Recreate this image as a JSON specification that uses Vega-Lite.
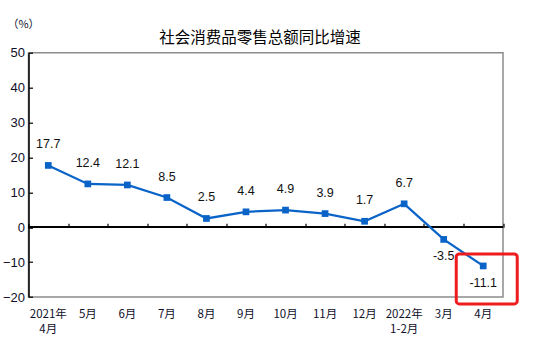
{
  "$schema": "https://vega.github.io/schema/vega-lite/v6.json",
  "autosize": "none",
  "padding": {"left": 28.5, "top": 52.7, "right": 33, "bottom": 58},
  "width": 474.5,
  "height": 244.3,
  "title": {
    "text": "社会消费品零售总额同比增速",
    "font": "Noto Sans CJK SC",
    "fontSize": 15.5,
    "fontWeight": "normal",
    "color": "#000000",
    "anchor": "middle",
    "dx": -5.7,
    "baseline": "bottom",
    "offset": -43
  },
  "config": {
    "view": {"stroke": "#8c8c8c", "strokeWidth": 1.5},
    "font": "Liberation Sans"
  },
  "data": {
    "values": [
      {"month": "2021年|4月", "value": 17.7},
      {"month": "5月", "value": 12.4},
      {"month": "6月", "value": 12.1},
      {"month": "7月", "value": 8.5},
      {"month": "8月", "value": 2.5},
      {"month": "9月", "value": 4.4},
      {"month": "10月", "value": 4.9},
      {"month": "11月", "value": 3.9},
      {"month": "12月", "value": 1.7},
      {"month": "2022年|1-2月", "value": 6.7},
      {"month": "3月", "value": -3.5},
      {"month": "4月", "value": -11.1}
    ]
  },
  "encoding": {
    "x": {"field": "month", "type": "nominal", "sort": null, "axis": null},
    "y": {"field": "value", "type": "quantitative", "axis": null}
  },
  "resolve": {"axis": {"x": "independent", "y": "independent"}},
  "layer": [
    {
      "mark": {"type": "rule", "color": "#000000", "strokeWidth": 1.5},
      "encoding": {
        "x": null,
        "y": {"datum": 0, "type": "quantitative", "axis": null}
      }
    },
    {
      "mark": {"type": "line", "color": "#0a64c8", "strokeWidth": 2.25},
      "encoding": {
        "x": {
          "field": "month", "type": "nominal", "sort": null,
          "scale": {"paddingInner": 0, "paddingOuter": 0},
          "axis": {
            "orient": "bottom", "title": null, "domain": false, "ticks": false,
            "labelAngle": 0, "labelFont": "Noto Sans CJK SC", "labelFontSize": 11.5,
            "labelColor": "#10102a", "labelBaseline": "top", "labelPadding": 11,
            "labelLineHeight": 15, "labelOverlap": false,
            "labelExpr": "split(datum.label, '|')"
          }
        },
        "y": {
          "field": "value", "type": "quantitative",
          "scale": {"domain": [-20, 50], "nice": false, "zero": false},
          "axis": {
            "orient": "left",
            "values": [-20, -10, 0, 10, 20, 30, 40, 50],
            "grid": false, "domainColor": "#000000", "domainWidth": 1.5,
            "tickColor": "#000000", "tickSize": -4, "tickWidth": 1.2,
            "labelFont": "Liberation Sans", "labelFontSize": 13, "labelColor": "#10102a",
            "labelPadding": 8, "labelOverlap": false, "labelFlush": false,
            "title": "（%）", "titleAngle": 0, "titleFont": "Noto Sans CJK SC",
            "titleFontSize": 11, "titleFontWeight": "normal", "titleColor": "#10102a",
            "titleX": -5.5, "titleY": -28, "titleAlign": "center", "titleBaseline": "middle"
          }
        }
      }
    },
    {
      "mark": {"type": "point", "shape": "square", "filled": true, "opacity": 1, "size": 45, "color": "#0a64c8"},
      "encoding": {
        "x": {
          "field": "month", "type": "nominal", "sort": null,
          "axis": {
            "orient": "top", "title": null, "labels": false, "domain": false,
            "ticks": true, "tickBand": "extent", "tickSize": 4, "tickWidth": 1.2,
            "tickColor": "#000000", "offset": -174.5
          }
        }
      }
    },
    {
      "transform": [{"filter": "datum.value >= 0"}],
      "mark": {"type": "text", "dy": -21, "fontSize": 12.5, "font": "Liberation Sans", "color": "#111111"},
      "encoding": {"text": {"field": "value", "type": "nominal"}}
    },
    {
      "transform": [{"filter": "datum.value < 0"}],
      "mark": {"type": "text", "dy": 17, "fontSize": 12.5, "font": "Liberation Sans", "color": "#111111"},
      "encoding": {"text": {"field": "value", "type": "nominal"}}
    },
    {
      "transform": [{"filter": "datum.month == '4月'"}],
      "mark": {
        "type": "point", "filled": false, "opacity": 1, "size": 5776,
        "stroke": "#ee1c1c", "strokeWidth": 3,
        "shape": "M-0.63,-0.316 H0.815 A0.08,0.08 0 0 1 0.895,-0.236 V0.92 A0.08,0.08 0 0 1 0.815,1 H-0.63 A0.08,0.08 0 0 1 -0.71,0.92 V-0.236 A0.08,0.08 0 0 1 -0.63,-0.316 Z"
      }
    }
  ]
}
